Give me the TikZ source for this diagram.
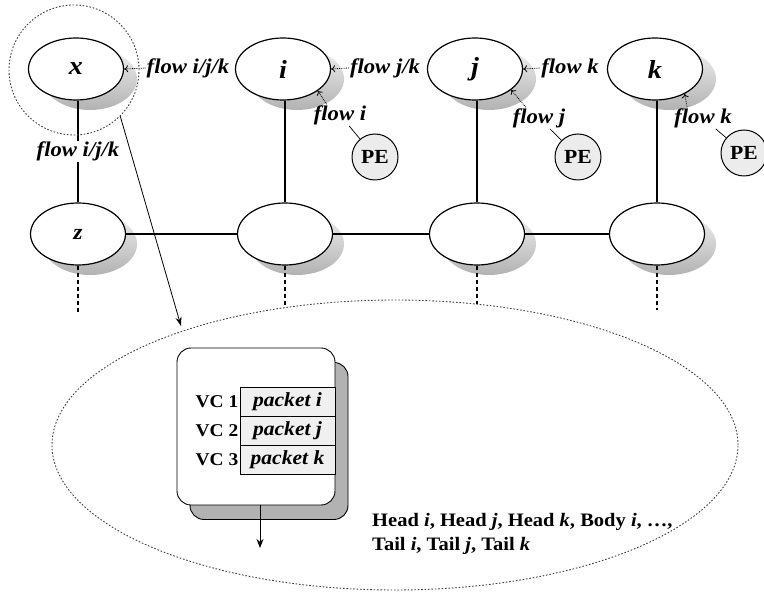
\documentclass[tikz,border=0pt]{standalone}
\usepackage{fontspec}
\setmainfont{Liberation Serif}[FakeStretch=1.08]
\usetikzlibrary{arrows.meta,shapes.geometric,calc}
\begin{document}
\begin{tikzpicture}[x=1pt,y=-1pt,
  router/.style={ellipse, draw, line width=1.2pt, fill=white, minimum width=95pt, minimum height=62pt, inner sep=0pt, font=\fontsize{26}{26}\selectfont\bfseries\itshape},
  rshadow/.style={ellipse, minimum width=94pt, minimum height=62pt, inner sep=0pt, top color=gray!12, bottom color=gray!60},
  pe/.style={circle, draw, line width=1pt, fill=gray!15, minimum size=46pt, inner sep=0pt, font=\fontsize{20}{20}\selectfont\bfseries},
  flowlbl/.style={font=\fontsize{21}{21}\selectfont\bfseries\itshape, inner sep=1pt},
  flowarr/.style={densely dotted, line width=0.8pt, -{To[length=4pt,width=7pt]}},
  link/.style={line width=1.3pt},
  down/.style={line width=1.3pt, dash pattern=on 4pt off 3pt},
  cell/.style={draw, line width=0.9pt, fill=gray!12, minimum width=95pt, minimum height=29pt, inner sep=0pt, font=\fontsize{20}{20}\selectfont\bfseries\itshape},
  vclbl/.style={anchor=east, inner sep=1pt, font=\fontsize{18}{18}\selectfont\bfseries},
  dotline/.style={line width=0.9pt, dash pattern=on 1.6pt off 1.8pt, black!75}
]
\useasboundingbox (0,0) rectangle (764,593);
\fill[white] (0,0) rectangle (764,593);

% big dotted ellipse
\node[ellipse, draw, dotline, minimum width=686pt, minimum height=290pt, inner sep=0pt] (buf) at (395,445) {};

% shadows of routers
\foreach \px/\py in {78/69,285/69,477/69,657/69,78/234,285/234,477/234,657/234}
  \node[rshadow] at (\px+12,\py+10) {};

% routers
\node[router] (rx) at (76,69) {x};
\node[router] (ri) at (283,69) {i};
\node[router] (rj) at (475,69) {j};
\node[router] (rk) at (655,69) {k};
\node[router, font=\fontsize{22}{22}\selectfont\bfseries\itshape] (bz) at (78,234) {z};
\node[router] (b2) at (285,234) {};
\node[router] (b3) at (477,234) {};
\node[router] (b4) at (657,234) {};

% links
\draw[link] (rx.south -| bz) -- node[flowlbl, fill=white] {flow i/j/k} (bz);
\draw[link] (ri.south -| b2) -- (b2);
\draw[link] (rj.south -| b3) -- (b3);
\draw[link] (rk.south -| b4) -- (b4);
\draw[link] (bz) -- (b2);
\draw[link] (b2) -- (b3);
\draw[link] (b3) -- (b4);

% dashed links downwards
\coordinate (dz) at (78,313);
\coordinate (d2) at (285,307);
\coordinate (d3) at (477,304);
\coordinate (d4) at (657,310);
\draw[down] (bz) -- (dz);
\draw[down] (b2) -- (d2);
\draw[down] (b3) -- (d3);
\draw[down] (b4) -- (d4);

% dashed circle around x
\node[circle, draw, dotline, minimum size=130pt, inner sep=0pt] (dc) at (74,70) {};
\coordinate (bufin) at (181,326);
\draw[line width=0.8pt, -{Stealth[length=9pt,width=6pt]}] (dc.-45) -- (bufin);

% flow labels
\node[flowlbl] (fxi) at (188,68) {flow i/j/k};
\node[flowlbl] (fij) at (385,68) {flow j/k};
\node[flowlbl] (fjk) at (570,68) {flow k};
\draw[flowarr] (fxi.west) -- (rx.east);
\draw[flowarr] (fij.west) -- (ri.east);
\draw[flowarr] (fjk.west) -- (rj.east);

\node[flowlbl] (fi) at (340,115) {flow i};
\node[flowlbl] (fj) at (539,118) {flow j};
\node[flowlbl] (fk) at (703,118) {flow k};
\draw[flowarr] ($(fi.north west)+(14,0)$) -- (ri.-32);
\draw[flowarr] ($(fj.north west)+(14,0)$) -- (rj.-30);
\draw[flowarr] ($(fk.north west)+(14,0)$) -- (rk.-40);

% PEs
\node[pe] (pei) at (375,157) {PE};
\node[pe] (pej) at (578,157) {PE};
\node[pe] (pek) at (744,153) {PE};
\draw[line width=0.7pt] (fi) -- (pei);
\draw[line width=0.7pt] (fj) -- (pej);
\draw[line width=0.7pt] (fk) -- (pek);

% VC buffer box
\node[draw, line width=0.9pt, rounded corners=14pt, fill=gray!60, minimum width=158pt, minimum height=157pt] (vcsh) at (269,441) {};
\node[draw, line width=0.9pt, rounded corners=14pt, fill=white, minimum width=158pt, minimum height=157pt] (vcbox) at (256,426.5) {};
\node[cell] (c1) at (287.5,401.5) {packet i};
\node[cell] (c2) at (287.5,430.5) {packet j};
\node[cell] (c3) at (287.5,459.5) {packet k};
\node[vclbl] at (c1.west) {VC 1};
\node[vclbl] at (c2.west) {VC 2};
\node[vclbl] at (c3.west) {VC 3};
\coordinate (vcout) at (260,548);
\draw[line width=1pt, -{Stealth[length=9pt,width=7pt]}] ($(vcbox.south)+(4,0)$) -- (vcout);

% flit text
\node[anchor=west, align=left, inner sep=0pt, font=\fontsize{19}{24}\selectfont\bfseries] (flits) at (372,534)
  {Head \textit{i}, Head \textit{j}, Head \textit{k}, Body \textit{i}, \dots,\\ Tail \textit{i}, Tail \textit{j}, Tail \textit{k}};
\end{tikzpicture}
\end{document}
